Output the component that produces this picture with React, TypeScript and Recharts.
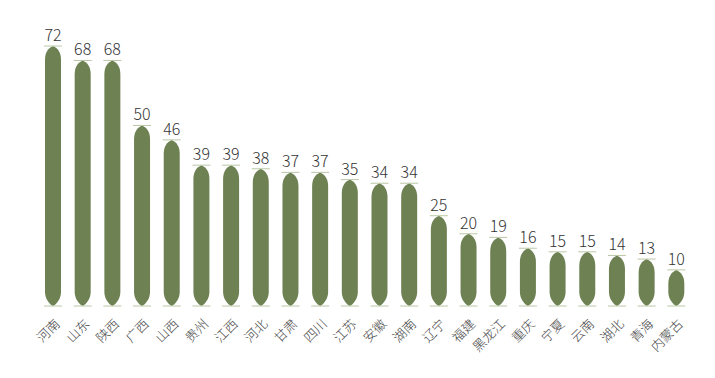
import { BarChart, Bar, XAxis, YAxis, LabelList } from "recharts";

const provinces = [
  "河南", "山东", "陕西", "广西", "山西", "贵州", "江西", "河北", "甘肃", "四川", "江苏",
  "安徽", "湖南", "辽宁", "福建", "黑龙江", "重庆", "宁夏", "云南", "湖北", "青海", "内蒙古",
];
const counts = [72, 68, 68, 50, 46, 39, 39, 38, 37, 37, 35, 34, 34, 25, 20, 19, 16, 15, 15, 14, 13, 10];

const data = provinces.map((name, i) => ({ name, value: counts[i] }));

const barColor = "#6e8153";
const tipColor = "#b9c7a4";

function SpindleBar(props: any) {
  const { x, y, width, height } = props;
  if (!height || height <= 0) return null;
  const w = width;
  const cx = x + w / 2;
  const r = Math.min(14, height / 2);
  const b = y + height;
  const d = [
    `M ${cx} ${y}`,
    `C ${cx + w * 0.3} ${y + r * 0.15}, ${x + w} ${y + r * 0.45}, ${x + w} ${y + r}`,
    `L ${x + w} ${b - r}`,
    `C ${x + w} ${b - r * 0.5}, ${cx + w * 0.2} ${b - r * 0.1}, ${cx} ${b}`,
    `C ${cx - w * 0.2} ${b - r * 0.1}, ${x} ${b - r * 0.5}, ${x} ${b - r}`,
    `L ${x} ${y + r}`,
    `C ${x} ${y + r * 0.45}, ${cx - w * 0.3} ${y + r * 0.15}, ${cx} ${y}`,
    "Z",
  ].join(" ");
  return (
    <g>
      <path d={d} fill={barColor} />
      <line x1={x - 1} x2={x + w + 1} y1={y} y2={y} stroke={tipColor} strokeWidth={1} />
      <line x1={x - 1} x2={x + w + 1} y1={b} y2={b} stroke={tipColor} strokeWidth={1} />
    </g>
  );
}

function RotatedTick(props: any) {
  const { x, y, payload } = props;
  return (
    <g transform={`translate(${x + 5},${y + 8})`}>
      <text
        textAnchor="end"
        transform="rotate(-45)"
        fill="#444"
        fontSize={13}
        fontWeight={300}
        dy={4}
      >
        {payload.value}
      </text>
    </g>
  );
}

export default function App() {
  return (
    <div style={{ position: "absolute", left: 0, top: 0, background: "#fff" }}>
      <BarChart
        width={715}
        height={378}
        data={data}
        margin={{ top: 46, right: 24, bottom: 0, left: 38 }}
        style={{ fontFamily: "'Noto Sans CJK SC', 'Noto Sans', sans-serif" }}
      >
        <XAxis
          dataKey="name"
          axisLine={false}
          tickLine={false}
          interval={0}
          height={72}
          tick={<RotatedTick />}
        />
        <YAxis hide domain={[0, 72]} />
        <Bar dataKey="value" barSize={16} shape={<SpindleBar />} isAnimationActive={false}>
          <LabelList
            dataKey="value"
            position="top"
            offset={5}
            fill="#333"
            fontSize={16}
            fontWeight={300}
          />
        </Bar>
      </BarChart>
    </div>
  );
}
